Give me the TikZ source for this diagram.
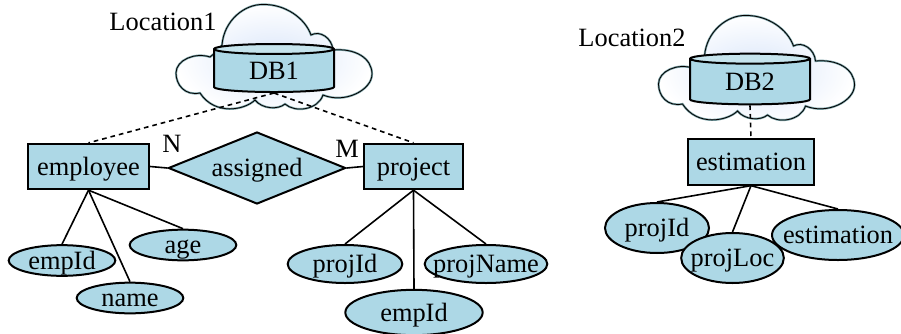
\documentclass[tikz,border=0pt]{standalone}
\usepackage{fontspec}
\setmainfont{Liberation Serif}
\usetikzlibrary{shapes.geometric}
\definecolor{erblue}{RGB}{173,216,230}
\definecolor{cloudblue}{RGB}{218,230,250}
\definecolor{cloudedge}{RGB}{120,160,165}
\tikzset{
    entity/.style={draw,line width=1.5pt,fill=erblue,inner sep=0pt,text height=14pt,text depth=1pt},
    attr/.style={draw,ellipse,line width=1.5pt,fill=erblue,inner sep=-10pt,text height=14pt,text depth=1pt},
    rel/.style={draw,diamond,line width=1.5pt,fill=erblue,inner sep=0pt,aspect=2.46,text height=14pt,text depth=1pt},
    dbstore/.style={draw,cylinder,shape border rotate=90,aspect=.2,line width=1.5pt,
        cylinder uses custom fill,cylinder body fill=erblue,cylinder end fill=erblue!70!white,inner sep=0pt},
    link/.style={line width=1.2pt},
    dotlink/.style={line width=1.2pt,dash pattern=on 3.5pt off 3pt},
    caption/.style={inner sep=0pt}
}
\newcommand{\cloudpath}{
    (222,45) .. controls (224,20) and (245,4) .. (263,4.5)
    .. controls (285,4) and (305,18) .. (311,35)
    .. controls (320,30) and (332,38) .. (333,50)
    .. controls (355,48) and (372,58) .. (372,74)
    .. controls (372,90) and (345,104) .. (323,95)
    .. controls (318,110) and (295,113) .. (285,104)
    .. controls (278,110) and (262,109) .. (255,100)
    .. controls (245,110) and (215,116) .. (200,93)
    .. controls (185,96) and (176,85) .. (176,73)
    .. controls (176,60) and (195,52) .. (210,57)
    .. controls (214,54) and (218,50) .. (222,45) -- cycle
}
\newcommand{\drawcloud}{
    \shade[inner color=cloudblue,outer color=white] \cloudpath;
    \draw[cloudedge,line width=1.6pt] \cloudpath;
    \draw[black,line width=.6pt] \cloudpath;
}
\begin{document}
\begin{tikzpicture}[x=.75pt,y=-.75pt,font=\fontsize{19.8}{22}\selectfont]
    \useasboundingbox (0,0) rectangle (901,333);

    % site 1
    \drawcloud
    \node[caption] (loc1) at (163,22) {Location1};
    \node[dbstore,minimum width=90pt,minimum height=36pt] (db1) at (274,71) {DB1};

    \node[entity,minimum width=91pt,minimum height=34pt] (employee) at (88.5,166.5) {employee};
    \node[rel,minimum width=133pt,minimum height=54pt] (assigned) at (257,168) {assigned};
    \node[entity,minimum width=74pt,minimum height=34pt] (project) at (413.5,166.5) {project};
    \node[caption] (nlabel) at (172,144) {N};
    \node[caption] (mlabel) at (347,149) {M};

    \node[attr,minimum width=80pt,minimum height=23pt] (empid) at (62,260.5) {empId};
    \node[attr,minimum width=80pt,minimum height=23pt] (name) at (130,298) {name};
    \node[attr,minimum width=80pt,minimum height=23pt] (age) at (183,245) {age};
    \node[attr,minimum width=86pt,minimum height=28.5pt] (projid) at (345,264) {projId};
    \node[attr,minimum width=92pt,minimum height=28.5pt] (projname) at (486,264) {projName};
    \node[attr,minimum width=103pt,minimum height=34pt] (empidb) at (414,312.5) {empId};

    \draw[dotlink] (db1.south) -- (employee.north);
    \draw[dotlink] (db1.south) -- (project.north);
    \draw[link] (employee.east) -- (assigned.west);
    \draw[link] (assigned.east) -- (project.west);
    \draw[link] (employee.south) -- (empid.north);
    \draw[link] (employee.south) -- (name.north);
    \draw[link] (employee.south) -- (age.north);
    \draw[link] (project.south) -- (projid.north);
    \draw[link] (project.south) -- (empidb.north);
    \draw[link] (project.south) -- (projname.north);

    % site 2
    \begin{scope}[shift={(482.5,11)}]
        \drawcloud
    \end{scope}
    \node[caption] (loc2) at (632,38) {Location2};
    \node[dbstore,minimum width=90pt,minimum height=38pt] (db2) at (750,82) {DB2};
    \node[entity,minimum width=94.5pt,minimum height=34pt] (estimation) at (751,162) {estimation};

    \node[attr,minimum width=78pt,minimum height=37.5pt] (projidb) at (657,228) {projId};
    \node[attr,minimum width=99pt,minimum height=37.5pt] (estattr) at (838,235) {estimation};
    \node[attr,minimum width=77pt,minimum height=37.5pt] (projloc) at (732.5,258) {projLoc};

    \draw[dotlink] (db2.south) -- (estimation.north);
    \draw[link] (estimation.south) -- (projidb.north);
    \draw[link] (estimation.south) -- (projloc.north);
    \draw[link] (estimation.south) -- (estattr.north);
\end{tikzpicture}
\end{document}
